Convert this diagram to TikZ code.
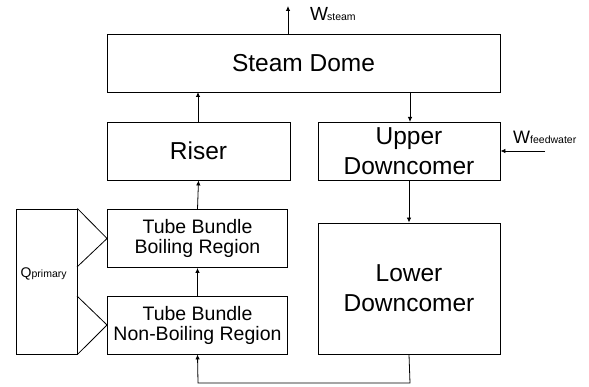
\documentclass[tikz,border=0pt]{standalone}
\usepackage{fontspec}
\setmainfont{Liberation Sans}
\usetikzlibrary{arrows.meta}
\begin{document}
\begin{tikzpicture}[x=1pt,y=-1pt,
  box/.style={draw,line width=0.9pt,inner sep=0pt,align=center},
  bigtxt/.style={font=\fontsize{24.5}{30}\selectfont},
  smtxt/.style={font=\fontsize{19.5}{20}\selectfont},
  flow/.style={line width=0.8pt,-{Latex[length=5pt,width=4.5pt]}},
  line/.style={line width=0.8pt}]
\useasboundingbox (0,0) rectangle (589,387);
\node[box,bigtxt,minimum width=393pt,minimum height=58pt] (dome) at (303.5,63) {Steam Dome};
\node[box,bigtxt,minimum width=183pt,minimum height=58pt] (riser) at (198.5,151) {Riser};
\node[box,bigtxt,minimum width=182pt,minimum height=58pt] (upper) at (409,151) {Upper\\Downcomer};
\node[box,bigtxt,minimum width=182pt,minimum height=131pt] (lower) at (409,288.5) {Lower\\Downcomer};
\node[box,smtxt,minimum width=180pt,minimum height=58pt] (boil) at (197.5,238.5) {Tube Bundle\\Boiling Region};
\node[box,smtxt,minimum width=180pt,minimum height=58pt] (nonboil) at (197.5,325) {Tube Bundle\\Non-Boiling Region};
\node[box,minimum width=61pt,minimum height=145pt] (q) at (46.5,281.5) {};
\node[anchor=base west,inner sep=0pt] (qlab) at (20.5,278) {\fontsize{14}{15}\selectfont Q\fontsize{10.5}{12}\selectfont primary};
% triangles
\draw[line] (q.north east) -- (boil.west) -- (77,267);
\draw[line] (77,296) -- (nonboil.west) -- (q.south east);
% flows
\coordinate (steamout) at (288,6);
\draw[flow] (288,34) -- (steamout);
\node[anchor=base west,inner sep=0pt] (wsteam) at (310,21) {\fontsize{19}{20}\selectfont W\kern-1pt\fontsize{10.5}{12}\selectfont steam};
\coordinate (fwin) at (545,151);
\draw[flow] (fwin) -- (upper.east);
\node[anchor=base west,inner sep=0pt] (wfw) at (513,144) {\fontsize{18}{20}\selectfont W\fontsize{10.5}{12}\selectfont feedwater};
\draw[flow] (410,92) -- (410,122);
\draw[flow] (upper.south) -- (lower.north);
\draw[flow] (198,122) -- (198,92);
\draw[flow] (boil.north) -- (riser.south);
\draw[flow] (nonboil.north) -- (boil.south);
\coordinate (c1) at (410,383);
\coordinate (c2) at (198,383);
\draw[flow] (lower.south) -- (c1) -- (c2) -- (nonboil.south);
\end{tikzpicture}
\end{document}
